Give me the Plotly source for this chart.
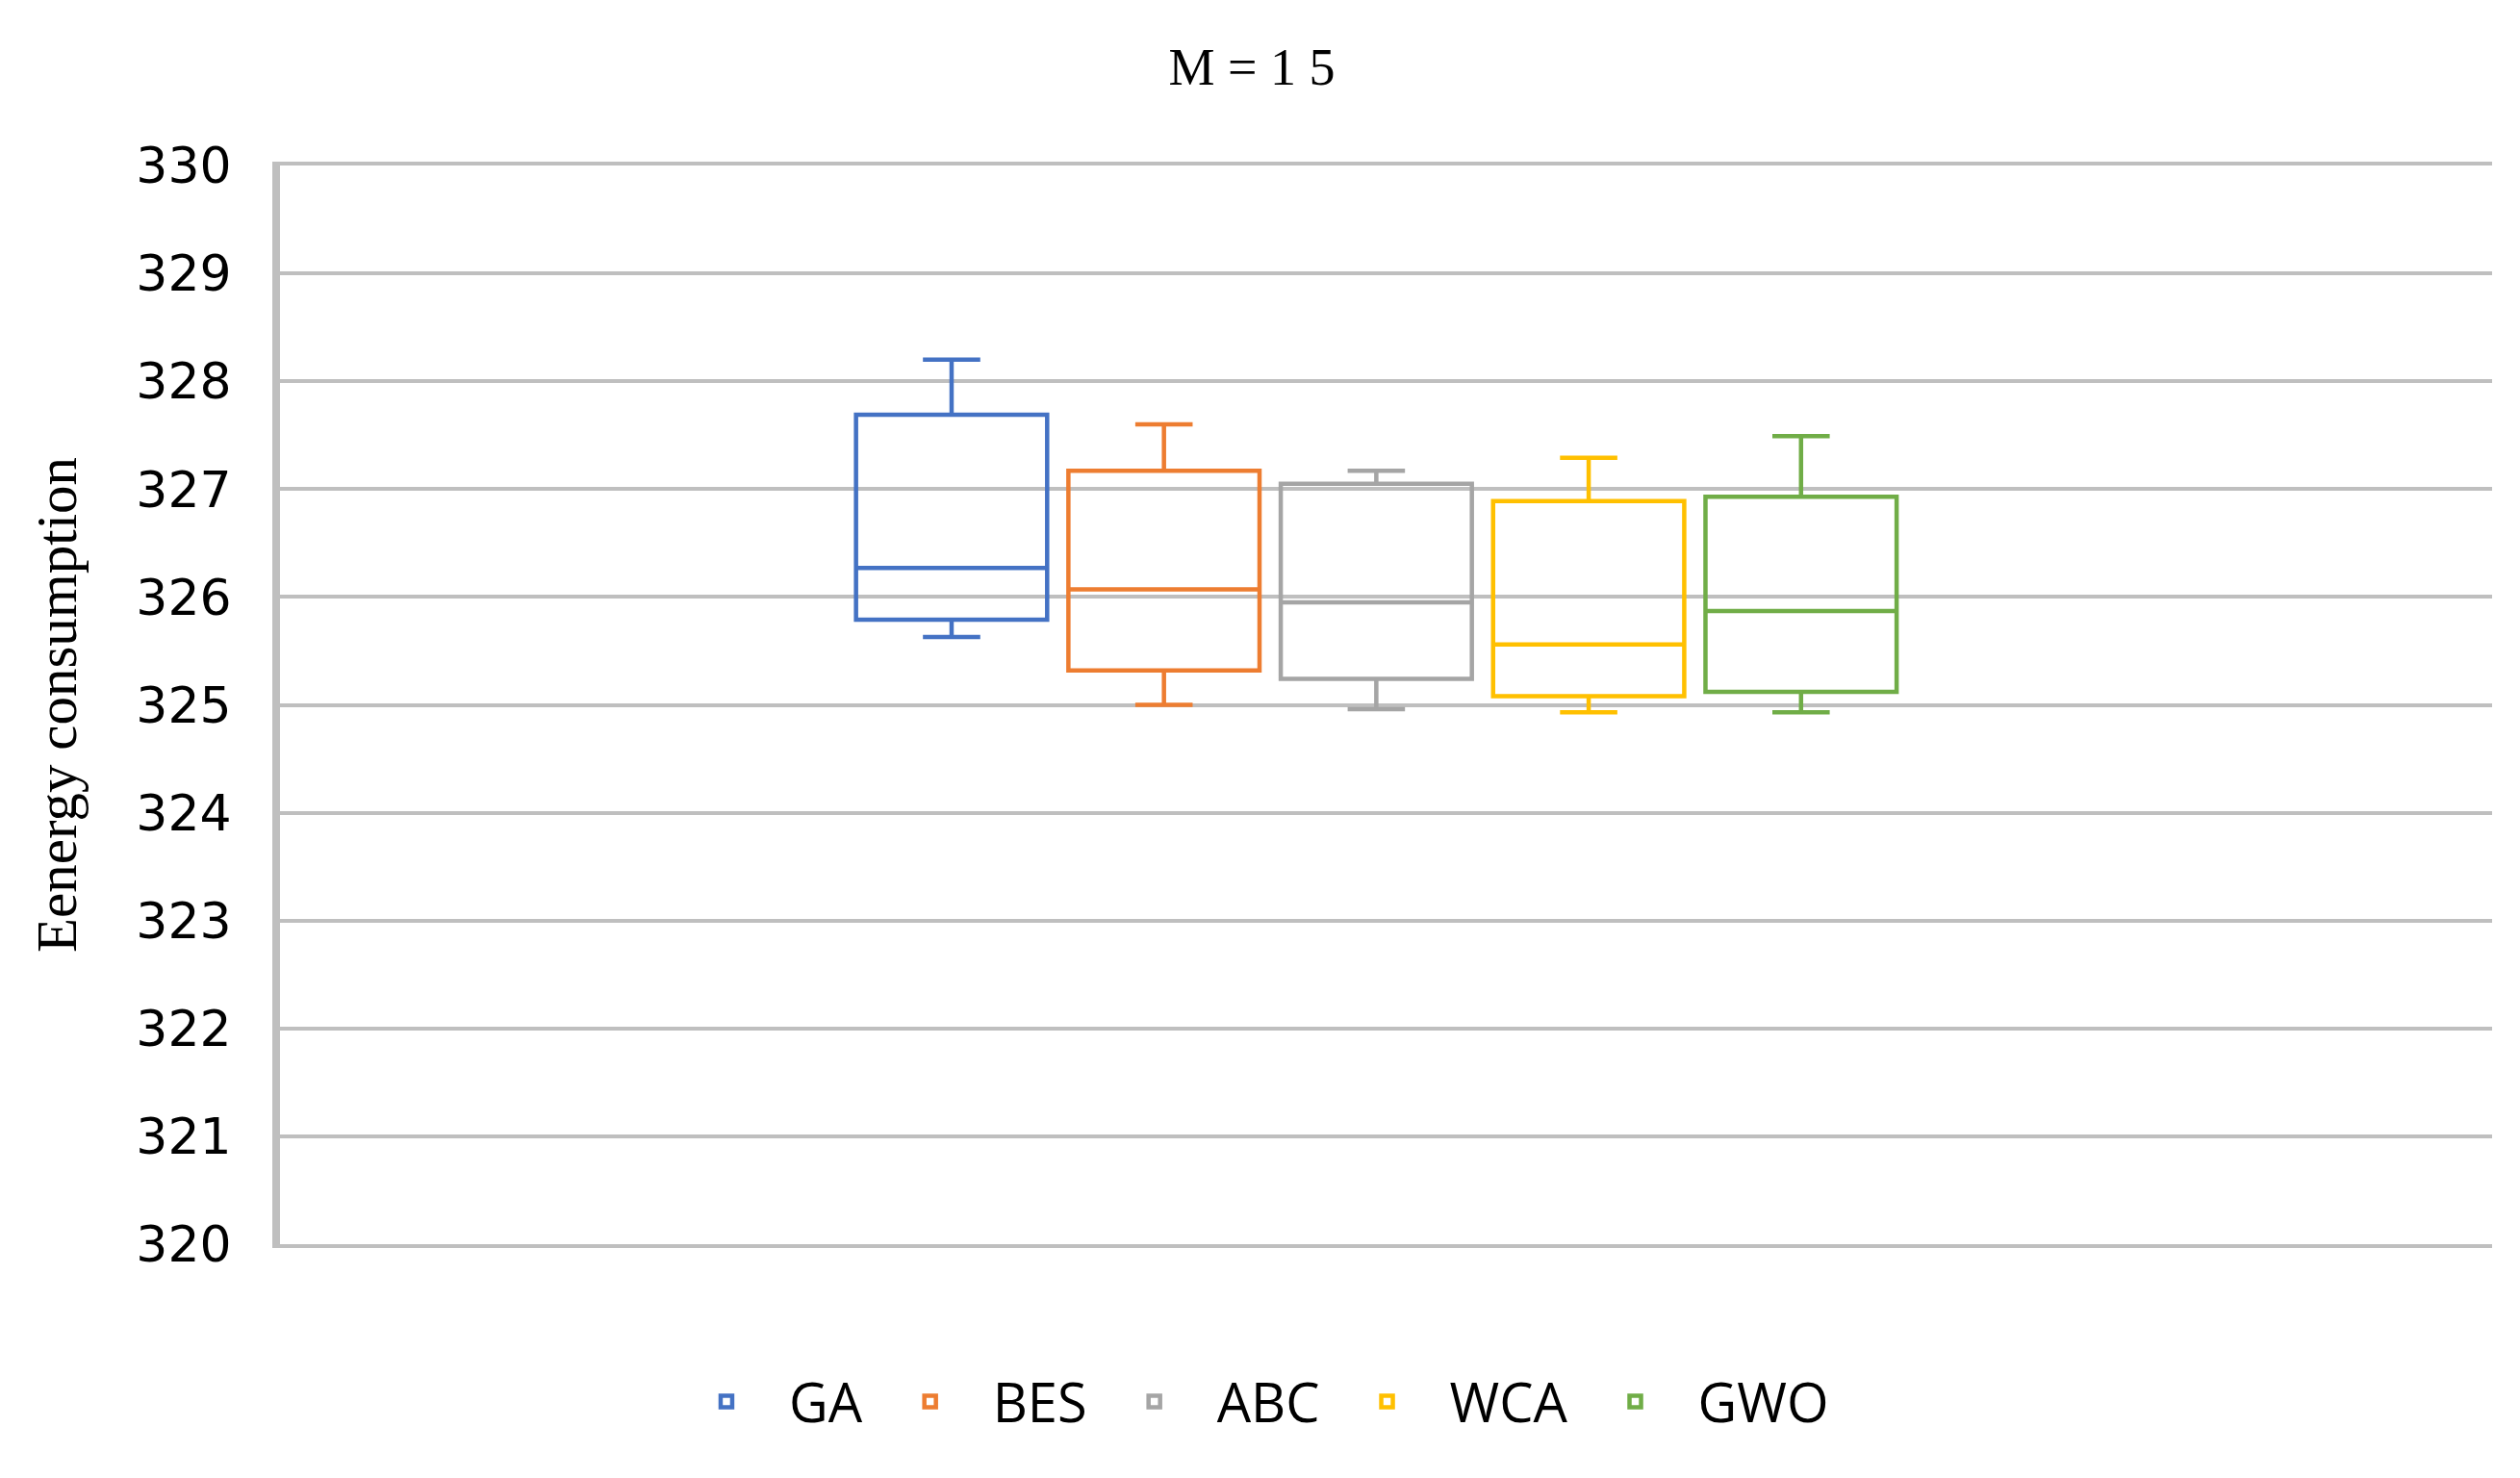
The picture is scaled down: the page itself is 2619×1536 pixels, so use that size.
import plotly.graph_objects as go

# ---- data ----
methods = ["GA", "BES", "ABC", "WCA", "GWO"]
lower_whisker = [325.63, 325.00, 324.96, 324.93, 324.93]
q1_values = [325.79, 325.32, 325.24, 325.08, 325.12]
median_values = [326.27, 326.07, 325.95, 325.56, 325.87]
q3_values = [327.69, 327.17, 327.05, 326.89, 326.93]
upper_whisker = [328.20, 327.60, 327.17, 327.29, 327.49]
colors = ["#4472C4", "#ED7D31", "#A5A5A5", "#FFC000", "#70AD47"]
category = ["M=15"]
y_ticks = [320, 321, 322, 323, 324, 325, 326, 327, 328, 329, 330]

fig = go.Figure()
for i, m in enumerate(methods):
    fig.add_trace(go.Box(
        name=m,
        x=category,
        q1=[q1_values[i]],
        median=[median_values[i]],
        q3=[q3_values[i]],
        lowerfence=[lower_whisker[i]],
        upperfence=[upper_whisker[i]],
        line=dict(color=colors[i], width=4.5),
        fillcolor="rgba(0,0,0,0)",
        whiskerwidth=0.3,
        boxpoints=False,
    ))

# page has an 8px body margin, so the figure is sized to fit inside it
W, H = 2603, 1520
ml, mr, mt, mb = 283, 21, 164, 235

fig.update_layout(
    width=W, height=H,
    margin=dict(l=ml, r=mr, t=mt, b=mb, pad=0),
    paper_bgcolor="white",
    plot_bgcolor="white",
    boxmode="group",
    boxgap=0.52,
    boxgroupgap=0.1,
    title=dict(
        text="M = 1 5",
        font=dict(family="Liberation Serif", size=54, color="black"),
        x=1293 / W, xanchor="center",
        y=1 - 61 / H, yanchor="middle",
    ),
    legend=dict(
        orientation="h",
        x=0.438, xanchor="center",
        y=-0.146, yanchor="middle",
        font=dict(family="Open Sans", size=56, color="black"),
        itemwidth=120,
        bgcolor="rgba(0,0,0,0)",
    ),
    showlegend=True,
)

fig.update_xaxes(
    type="category",
    range=[-0.4956, 0.5044],
    showticklabels=False,
    showgrid=False,
    zeroline=False,
    showline=True,
    mirror=True,
    linecolor="#BFBFBF",
    linewidth=4,
    ticks="",
)

fig.update_yaxes(
    range=[320, 330],
    tickvals=y_ticks,
    ticktext=[str(v) for v in y_ticks],
    showgrid=True,
    gridcolor="#BFBFBF",
    gridwidth=4,
    zeroline=False,
    showline=True,
    linecolor="#BFBFBF",
    linewidth=8,
    ticks="",
    ticklabelstandoff=32,
    tickfont=dict(family="DejaVu Sans", size=52, color="black"),
    title=dict(
        text="Eenergy consumption",
        font=dict(family="Liberation Serif", size=59, color="black"),
        standoff=46,
    ),
)

fig.write_html("out.html")
